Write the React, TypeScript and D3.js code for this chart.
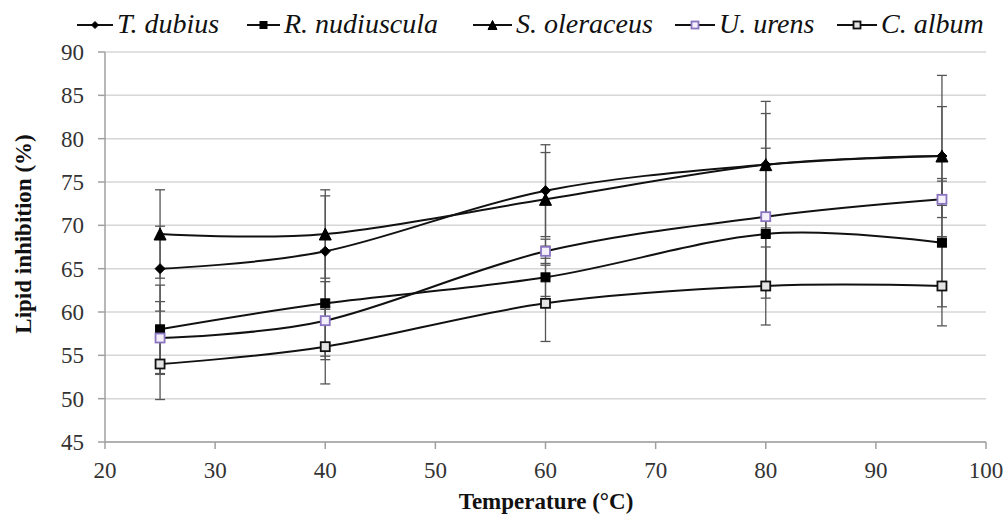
import React from 'react';
import { scaleLinear, line, curveCardinal, range } from 'd3';

// temperatures (°C) and lipid inhibition (%) per plant
const temps = [25, 40, 60, 80, 96];
const tDubius = [65, 67, 74, 77, 78];
const tDubiusErr = [4.9, 6.4, 5.3, 7.3, 9.3];
const rNudiuscula = [58, 61, 64, 69, 68];
const rNudiusculaErr = [5.1, 6.1, 2.2, 7.4, 7.4];
const sOleraceus = [69, 69, 73, 77, 78];
const sOleraceusErr = [5.1, 5.1, 5.4, 5.9, 5.7];
const uUrens = [57, 59, 67, 71, 73];
const uUrensErr = [4.2, 4.5, 1.4, 7.9, 2.1];
const cAlbum = [54, 56, 61, 63, 63];
const cAlbumErr = [4.1, 4.3, 4.4, 4.5, 4.6];

const seriesNames = ['T. dubius', 'R. nudiuscula', 'S. oleraceus', 'U. urens', 'C. album'];
const xTicks = [20, 30, 40, 50, 60, 70, 80, 90, 100];
const yTicks = [45, 50, 55, 60, 65, 70, 75, 80, 85, 90];

const W = 1005, H = 515;
const left = 105, right = 986, top = 52, bottom = 442;
const font = '"Liberation Serif", "Times New Roman", serif';

const series = [
  { name: seriesNames[0], vals: tDubius, err: tDubiusErr, shape: 'diamond', fill: '#000', stroke: '#000' },
  { name: seriesNames[1], vals: rNudiuscula, err: rNudiusculaErr, shape: 'square', fill: '#000', stroke: '#000' },
  { name: seriesNames[2], vals: sOleraceus, err: sOleraceusErr, shape: 'triangle', fill: '#000', stroke: '#000' },
  { name: seriesNames[3], vals: uUrens, err: uUrensErr, shape: 'square', fill: '#f4f0fa', stroke: '#8a74c0' },
  { name: seriesNames[4], vals: cAlbum, err: cAlbumErr, shape: 'square', fill: '#e4e4e4', stroke: '#111' },
];

// legend layout: line start, line end
const legendPos = [[77, 113], [247, 280], [473, 512], [675, 715], [837, 877]];

function marker(shape: string, x: number, y: number, s: number, fill: string, stroke: string, key?: any) {
  if (shape === 'diamond') {
    return <path key={key} d={`M${x},${y - s / 2}L${x + s / 2},${y}L${x},${y + s / 2}L${x - s / 2},${y}Z`} fill={fill} stroke={stroke} />;
  }
  if (shape === 'triangle') {
    return <path key={key} d={`M${x},${y - s / 2}L${x + s / 2},${y + s / 2}L${x - s / 2},${y + s / 2}Z`} fill={fill} stroke={stroke} />;
  }
  return <rect key={key} x={x - s / 2} y={y - s / 2} width={s} height={s} fill={fill} stroke={stroke} strokeWidth={fill === '#000' ? 1 : 1.8} />;
}

export default function App() {
  const x = scaleLinear().domain([20, 100]).range([left, right]);
  const y = scaleLinear().domain([45, 90]).range([bottom, top]);

  const lineGen = line<number>()
    .x((d, i) => x(temps[i]))
    .y(d => y(d))
    .curve(curveCardinal.tension(0));

  const sizes: any = { diamond: 10, square: 9, triangle: 12 };
  const legSizes: any = { diamond: 7, square: 7, triangle: 9 };

  return (
    <div style={{ position: 'absolute', left: 0, top: 0 }}>
      <svg width={W} height={H} style={{ display: 'block', background: '#fff' }}>
        {/* grid */}
        {yTicks.map(t => (
          <line key={'g' + t} x1={left} x2={right} y1={y(t)} y2={y(t)} stroke="#d6d6d6" strokeWidth={1.5} />
        ))}
        {/* y axis */}
        <line x1={left} x2={left} y1={top} y2={bottom} stroke="#a0a0a0" strokeWidth={1.5} />
        {yTicks.map(t => (
          <g key={'y' + t}>
            <line x1={left - 7} x2={left} y1={y(t)} y2={y(t)} stroke="#a0a0a0" strokeWidth={1.5} />
            <text x={84} y={y(t)} dy="0.35em" textAnchor="end" fontSize={23} fontFamily={font} fill="#333">{t}</text>
          </g>
        ))}
        {/* x axis */}
        <line x1={left} x2={right} y1={bottom} y2={bottom} stroke="#a0a0a0" strokeWidth={1.5} />
        {xTicks.map(t => (
          <g key={'x' + t}>
            <line x1={x(t)} x2={x(t)} y1={bottom} y2={bottom + 7} stroke="#a0a0a0" strokeWidth={1.5} />
            <text x={x(t)} y={478} textAnchor="middle" fontSize={23} fontFamily={font} fill="#333">{t}</text>
          </g>
        ))}
        <text x={546} y={509} textAnchor="middle" fontSize={23} fontWeight="bold" fontFamily={font} fill="#111">Temperature (°C)</text>
        <text transform={`translate(31,${(133 + 335) / 2}) rotate(-90)`} textAnchor="middle" fontSize={23} fontWeight="bold" fontFamily={font} fill="#111">Lipid inhibition (%)</text>

        {/* error bars */}
        {series.map((s, si) => s.vals.map((v, i) => {
          const cx = x(temps[i]);
          return (
            <g key={'e' + si + '-' + i} stroke="#555" strokeWidth={1.3}>
              <line x1={cx} x2={cx} y1={y(v + s.err[i])} y2={y(v - s.err[i])} />
              <line x1={cx - 5} x2={cx + 5} y1={y(v + s.err[i])} y2={y(v + s.err[i])} />
              <line x1={cx - 5} x2={cx + 5} y1={y(v - s.err[i])} y2={y(v - s.err[i])} />
            </g>
          );
        }))}

        {/* lines */}
        {series.map((s, si) => (
          <path key={'l' + si} d={lineGen(s.vals) || ''} fill="none" stroke="#111" strokeWidth={2} />
        ))}
        {/* markers */}
        {series.map((s, si) => s.vals.map((v, i) =>
          marker(s.shape, x(temps[i]), y(v), sizes[s.shape], s.fill, s.stroke, 'm' + si + '-' + i)
        ))}

        {/* legend */}
        {series.map((s, si) => {
          const [a, b] = legendPos[si];
          return (
            <g key={'lg' + si}>
              <line x1={a} x2={b} y1={25} y2={25} stroke="#111" strokeWidth={2} />
              {marker(s.shape, (a + b) / 2, 25, legSizes[s.shape], s.fill, s.stroke)}
              <text x={b + 4} y={33} fontSize={28} fontStyle="italic" fontFamily={font} fill="#111">{s.name}</text>
            </g>
          );
        })}
      </svg>
    </div>
  );
}
